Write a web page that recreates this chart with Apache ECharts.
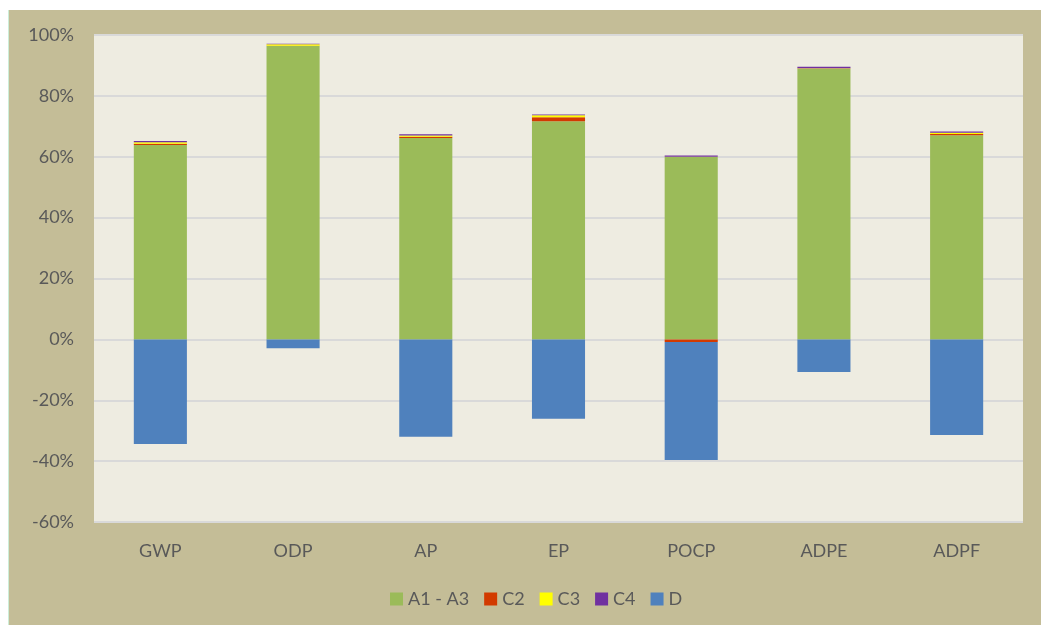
<!DOCTYPE html>
<html>
<head>
<meta charset="utf-8">
<script src="https://cdn.jsdelivr.net/npm/echarts@6/dist/echarts.min.js"></script>
<style>
html,body{margin:0;padding:0;background:#ffffff;width:1041px;height:625px;overflow:hidden;}
#wrap{position:absolute;left:8px;top:10px;width:1033px;height:615px;background:#c4bd97;border-left:1px solid #cdeed8;}
#c{width:1033px;height:615px;}
</style>
</head>
<body>
<div id="wrap"><div id="c"></div></div>
<script>
const categories = ['GWP', 'ODP', 'AP', 'EP', 'POCP', 'ADPE', 'ADPF'];
const seriesNames = ['A1 - A3', 'C2', 'C3', 'C4', 'D'];
const a1a3 = [63.9, 96.4, 66.2, 71.7, 59.9, 88.9, 67.1];
const c2 = [0.4, 0.1, 0.4, 1.3, -0.9, 0.1, 0.4];
const c3 = [0.5, 0.5, 0.4, 0.6, 0.1, 0.1, 0.4];
const c4 = [0.4, 0.1, 0.4, 0.3, 0.4, 0.5, 0.4];
const d = [-34.4, -2.9, -32.0, -26.1, -38.7, -10.7, -31.4];
const yTicks = [-60, -40, -20, 0, 20, 40, 60, 80, 100];

const colors = ['#9bbb59', '#d23a00', '#ffff00', '#7030a0', '#4f81bd'];
const values = [a1a3, c2, c3, c4, d];
const font = 'Lato, "Open Sans", sans-serif';

const chart = echarts.init(document.getElementById('c'));
chart.setOption({
  animation: false,
  backgroundColor: '#c4bd97',
  color: colors,
  grid: {
    left: 85, right: 19, top: 25, bottom: 103,
    show: true, backgroundColor: '#eeece1', borderWidth: 0
  },
  legend: {
    data: seriesNames,
    left: 376, top: 575,
    itemWidth: 13, itemHeight: 13, itemGap: 15,
    icon: 'rect',
    textStyle: { color: '#595959', fontSize: 18, fontFamily: font }
  },
  xAxis: {
    type: 'category',
    data: categories,
    axisLine: { show: false },
    axisTick: { show: false },
    axisLabel: { color: '#595959', fontSize: 18, fontFamily: font, margin: 20 },
    position: 'bottom'
  },
  yAxis: {
    type: 'value',
    min: yTicks[0], max: yTicks[yTicks.length - 1], interval: 20,
    axisLine: { show: false },
    axisTick: { show: false },
    axisLabel: { color: '#595959', fontSize: 18, fontFamily: font, margin: 20, formatter: '{value}%' },
    splitLine: { show: true, lineStyle: { color: '#d9d9d9', width: 2 } }
  },
  series: seriesNames.map((name, i) => ({
    name: name,
    type: 'bar',
    stack: 'total',
    barWidth: '40%',
    data: values[i],
    itemStyle: { color: colors[i] }
  }))
});
</script>
</body>
</html>
